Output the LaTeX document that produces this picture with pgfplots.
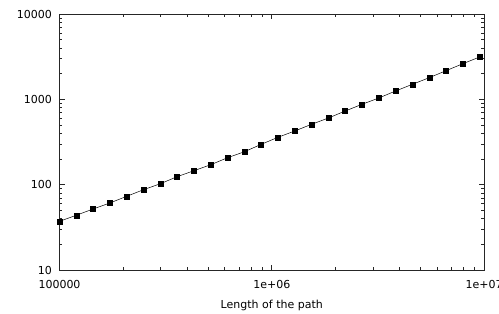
\documentclass[border=0pt]{standalone}
\usepackage{pgfplots}
\pgfplotsset{compat=1.18}
\usepackage{fontspec}
\setmainfont{DejaVu Sans}
\begin{document}
\fontsize{11bp}{13bp}\selectfont
\begin{tikzpicture}
\useasboundingbox (-59.5bp,-44bp) rectangle (439.5bp,270bp);
\begin{axis}[
  at={(0,0)}, anchor=south west,
  scale only axis, width=424.5bp, height=256bp,
  xmode=log, ymode=log,
  xmin=1e5, xmax=1e7, ymin=10, ymax=10000,
  xtick={1e5,1e6,1e7}, xticklabels={100000,1e+06,1e+07},
  ytick={10,100,1000,10000}, yticklabels={10,100,1000,10000},
  major tick length=5bp, minor tick length=2.7bp,
  tick align=inside,
  axis line style={line width=0.8pt, black!85},
  every tick/.style={line width=0.6pt, black!85},
  xticklabel style={anchor=north, inner sep=0pt, yshift=-10bp, font=\fontsize{11bp}{13bp}\selectfont},
  yticklabel style={anchor=east, inner sep=0pt, xshift=-7.5bp, font=\fontsize{11bp}{13bp}\selectfont},
  xlabel={Length of the path},
  xlabel style={at={(axis description cs:0.5,0)}, anchor=base, yshift=-38bp, inner sep=0pt, font=\fontsize{11bp}{13bp}\selectfont},
  clip=false,
]
\addplot[black, line width=0.5pt, mark=square*, mark size=2.5bp, mark options={solid, fill=black}] table {
x y
100000 37.2
120000 43.8
144000 51.9
172800 61.0
207360 73.1
248832 87.3
298598 102.6
358318 124
429982 145.8
515978 171.4
619174 207
743008 243
891610 297
1069932 359
1283918 426
1540702 510
1848843 604
2218611 730
2662333 875
3194800 1037
3833760 1253
4600512 1501
5520614 1794
6624737 2166
7949685 2616
9539622 3134
};
\end{axis}
\end{tikzpicture}
\end{document}
